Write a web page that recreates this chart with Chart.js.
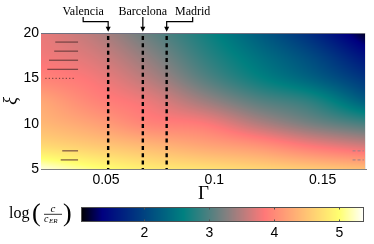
<!DOCTYPE html>
<html><head><meta charset="utf-8">
<script src="https://cdn.jsdelivr.net/npm/chart.js@4.4.1/dist/chart.umd.min.js"></script>
<style>
html,body{margin:0;padding:0;background:#fff;}
#wrap{position:relative;width:374px;height:244px;overflow:hidden;background:#fff;}
#main{position:absolute;left:0;top:0;}
#cb{position:absolute;left:0;top:195px;}
</style></head><body>
<div id="wrap">
<canvas id="main" width="374" height="244" style="width:374px;height:244px"></canvas>
<canvas id="cb" width="374" height="49" style="width:374px;height:49px"></canvas>
</div>
<script>
// ---------- data ----------
const gammaGrid = [0.02, 0.045, 0.07, 0.095, 0.12, 0.145, 0.17];
const xiGrid = [5, 7.5, 10, 12.5, 15, 17.5, 20];
const logRatioXi5    = [5.30, 5.05, 4.85, 4.75, 4.65, 4.55, 4.45];
const logRatioXi7_5  = [4.70, 4.55, 4.40, 4.25, 4.10, 3.85, 3.65];
const logRatioXi10   = [4.40, 4.20, 3.95, 3.85, 3.50, 3.20, 2.95];
const logRatioXi12_5 = [4.25, 3.95, 3.75, 3.40, 3.05, 2.80, 2.25];
const logRatioXi15   = [3.95, 3.80, 3.50, 3.05, 2.65, 2.30, 1.85];
const logRatioXi17_5 = [3.80, 3.65, 3.30, 2.85, 2.45, 2.05, 1.50];
const logRatioXi20   = [3.75, 3.50, 3.10, 2.70, 2.25, 1.75, 1.10];

const cities = ['Valencia', 'Barcelona', 'Madrid'];
const cityGamma = [0.051, 0.067, 0.078];

const gammaTicks = [0.05, 0.1, 0.15];
const xiTicks = [5, 10, 15, 20];
const colorbarTicks = [2, 3, 4, 5];
const colorbarMin = 1.025, colorbarMax = 5.38;

// short stray marks visible inside the plot
const markXi = [19, 18, 17, 16, 15, 7, 6, 7, 6];
const markGammaStart = [0.0266, 0.0261, 0.0237, 0.0229, 0.0220, 0.0298, 0.0291, 0.1638, 0.1638];
const markGammaEnd   = [0.0371, 0.0371, 0.0371, 0.0371, 0.0352, 0.0371, 0.0371, 0.1690, 0.1690];
const markDotted = [false, false, false, false, true, false, false, true, true];

// colormap (value -> colour)
const cmapValues = [1.025, 1.35, 2.6, 3.25, 3.85, 5.0, 5.38];
const cmapColors = [[0,0,0],[0,0,128],[0,128,128],[128,128,128],[255,120,120],[255,255,112],[255,255,255]];

// ---------- helpers ----------
const fieldRows = [logRatioXi5, logRatioXi7_5, logRatioXi10, logRatioXi12_5, logRatioXi15, logRatioXi17_5, logRatioXi20];
function locate(arr, v){
  if (v <= arr[0]) return [0, 0];
  if (v >= arr[arr.length-1]) return [arr.length-2, 1];
  for (let i=0;i<arr.length-1;i++){
    if (v>=arr[i] && v<=arr[i+1]) return [i, (v-arr[i])/(arr[i+1]-arr[i])];
  }
  return [arr.length-2,1];
}
// smooth (Catmull-Rom) shading between the sampled grid values
function cr(p0, p1, p2, p3, t){
  return 0.5*((2*p1) + (-p0+p2)*t + (2*p0-5*p1+4*p2-p3)*t*t + (-p0+3*p1-3*p2+p3)*t*t*t);
}
function rowAt(row, i, t){
  const n = row.length;
  const g = k => row[Math.max(0, Math.min(n-1, k))];
  const p0 = i-1 < 0 ? 2*g(0)-g(1) : g(i-1);
  const p3 = i+2 > n-1 ? 2*g(n-1)-g(n-2) : g(i+2);
  return cr(p0, g(i), g(i+1), p3, t);
}
function field(gv, xi){
  const [i, tx] = locate(gammaGrid, gv);
  const [j, ty] = locate(xiGrid, xi);
  const col = fieldRows.map(r => rowAt(r, i, tx));
  return rowAt(col, j, ty);
}
function cmap(v){
  const [i, t] = locate(cmapValues, v);
  const a = cmapColors[i], b = cmapColors[i+1];
  return [a[0]+(b[0]-a[0])*t, a[1]+(b[1]-a[1])*t, a[2]+(b[2]-a[2])*t];
}

const heatmapPlugin = {
  id: 'heatmap',
  beforeDatasetsDraw(chart){
    const {ctx, chartArea, scales:{x, y}} = chart;
    const left = Math.round(chartArea.left), top = Math.round(chartArea.top);
    const w = Math.round(chartArea.right) - left, h = Math.round(chartArea.bottom) - top;
    const off = document.createElement('canvas'); off.width = w; off.height = h;
    const octx = off.getContext('2d');
    const img = octx.createImageData(w, h);
    for (let py=0; py<h; py++){
      const xi = y.getValueForPixel(top+py+0.5);
      for (let px=0; px<w; px++){
        const g = x.getValueForPixel(left+px+0.5);
        const c = cmap(field(g, xi));
        const k = (py*w+px)*4;
        img.data[k]=c[0]; img.data[k+1]=c[1]; img.data[k+2]=c[2]; img.data[k+3]=255;
      }
    }
    octx.putImageData(img, 0, 0);
    ctx.drawImage(off, left, top);
    ctx.save();
    ctx.strokeStyle = '#6f7080'; ctx.lineWidth = 1;
    ctx.beginPath(); ctx.moveTo(left, top+0.5); ctx.lineTo(left+w, top+0.5); ctx.stroke();
    ctx.strokeStyle = '#e8e8e8';
    ctx.beginPath(); ctx.moveTo(left+w-0.5, top); ctx.lineTo(left+w-0.5, top+h); ctx.stroke();
    ctx.restore();
  }
};

const cityLabelShift = [-25, 0, 26];
const annotationPlugin = {
  id: 'cityArrows',
  afterDraw(chart){
    const {ctx, scales:{x}, chartArea} = chart;
    ctx.save();
    ctx.font = '12px "Liberation Serif", "Times New Roman", serif';
    ctx.fillStyle = '#000'; ctx.strokeStyle = '#000'; ctx.lineWidth = 1.2;
    ctx.textAlign = 'center'; ctx.textBaseline = 'alphabetic';
    const tipY = chartArea.top - 1.3;
    cities.forEach((name, i) => {
      const gx = x.getPixelForValue(cityGamma[i]);
      const lx = gx + cityLabelShift[i];
      ctx.fillText(name, lx, 15);
      ctx.beginPath();
      ctx.moveTo(lx, 17);
      if (cityLabelShift[i] !== 0){
        ctx.lineTo(lx, 21.7); ctx.lineTo(gx, 21.7);
      }
      ctx.lineTo(gx, tipY-4);
      ctx.stroke();
      ctx.beginPath();
      ctx.moveTo(gx-2.5, tipY-5); ctx.lineTo(gx+2.5, tipY-5); ctx.lineTo(gx, tipY); ctx.closePath(); ctx.fill();
    });
    ctx.restore();
  }
};

const datasets = [];
cities.forEach((name, i) => {
  datasets.push({
    label: name, type: 'line',
    data: [{x: cityGamma[i], y: 20}, {x: cityGamma[i], y: 5}],
    borderColor: '#000', borderWidth: 2.4, borderDash: [4, 3.33], borderDashOffset: 4.33,
    pointRadius: 0, fill: false
  });
});
markXi.forEach((xi, i) => {
  datasets.push({
    label: 'mark' + i, type: 'line',
    data: [{x: markGammaStart[i], y: xi}, {x: markGammaEnd[i], y: xi}],
    borderColor: i >= 7 ? '#9a8088' : '#5e3636', borderWidth: 1,
    borderDash: markDotted[i] ? (i >= 7 ? [3, 2] : [1.2, 2.2]) : [],
    pointRadius: 0, fill: false
  });
});

const tickFont = {family: '"Liberation Sans", Arial, sans-serif', size: 14};
new Chart(document.getElementById('main'), {
  type: 'scatter',
  data: {datasets},
  options: {
    responsive: false, animation: false, devicePixelRatio: 1,
    layout: {padding: {left: 0, right: 8, top: 33, bottom: 39}},
    plugins: {legend: {display: false}, tooltip: {enabled: false}},
    scales: {
      x: {
        type: 'linear', min: 0.02, max: 0.17,
        afterBuildTicks: s => { s.ticks = gammaTicks.map(v => ({value: v})); },
        afterFit: s => { s.height = 36; },
        ticks: {font: tickFont, color: '#000', padding: 3, maxRotation: 0, autoSkip: false,
                callback: v => String(Math.round(v*100)/100)},
        grid: {display: false, drawTicks: false},
        border: {display: true, color: '#808080', width: 1},
        title: {display: true, text: 'Γ', color: '#000', padding: 0,
                font: {family: '"Liberation Serif", "Times New Roman", serif', size: 19}}
      },
      y: {
        type: 'linear', min: 5, max: 20,
        afterBuildTicks: s => { s.ticks = xiTicks.map(v => ({value: v})); },
        afterFit: s => { s.width = 41; },
        ticks: {font: tickFont, color: '#000', padding: 2, autoSkip: false},
        grid: {display: false, drawTicks: false},
        border: {display: true, color: '#808080', width: 1},
        title: {display: true, text: 'ξ', color: '#000', padding: 0,
                font: {family: '"Liberation Serif", "Times New Roman", serif', size: 18, style: 'italic'}}
      }
    }
  },
  plugins: [heatmapPlugin, annotationPlugin]
});

// ---------- colour bar ----------
const colorbarPlugin = {
  id: 'colorbar',
  beforeDatasetsDraw(chart){
    const {ctx, chartArea, scales:{x}} = chart;
    const left = Math.round(chartArea.left), top = Math.round(chartArea.top);
    const w = Math.round(chartArea.right) - left, h = Math.round(chartArea.bottom) - top;
    for (let px=0; px<w; px++){
      const c = cmap(x.getValueForPixel(left+px+0.5));
      ctx.fillStyle = 'rgb(' + c.map(Math.round).join(',') + ')';
      ctx.fillRect(left+px, top, 1, h);
    }
    ctx.save();
    ctx.strokeStyle = '#505050'; ctx.lineWidth = 1;
    ctx.strokeRect(left+0.5, top+0.5, w-1, h-1);
    colorbarTicks.forEach(v => {
      const p = Math.round(x.getPixelForValue(v)) + 0.5;
      ctx.beginPath(); ctx.moveTo(p, top); ctx.lineTo(p, top+2.5);
      ctx.moveTo(p, top+h); ctx.lineTo(p, top+h-2.5); ctx.stroke();
    });
    // label log(c / c_ER)
    ctx.fillStyle = '#000';
    ctx.textBaseline = 'alphabetic'; ctx.textAlign = 'left';
    ctx.font = '16px "Liberation Serif", "Times New Roman", serif';
    ctx.fillText('log', 9, 22.7);
    ctx.font = '26px "Liberation Serif", "Times New Roman", serif';
    ctx.fillText('(', 32, 26);
    ctx.fillText(')', 63, 26);
    ctx.textAlign = 'center';
    ctx.font = 'italic 11px "Liberation Serif", "Times New Roman", serif';
    ctx.fillText('c', 53, 16.7);
    ctx.lineWidth = 0.8; ctx.strokeStyle = '#000';
    ctx.beginPath(); ctx.moveTo(44, 19.3); ctx.lineTo(62, 19.3); ctx.stroke();
    ctx.textAlign = 'left';
    ctx.font = 'italic 10px "Liberation Serif", "Times New Roman", serif';
    ctx.fillText('c', 44, 26.5);
    ctx.font = 'italic 7px "Liberation Serif", "Times New Roman", serif';
    ctx.fillText('ER', 49, 27.7);
    ctx.restore();
  }
};

new Chart(document.getElementById('cb'), {
  type: 'scatter',
  data: {datasets: []},
  options: {
    responsive: false, animation: false, devicePixelRatio: 1,
    layout: {padding: {left: 81, right: 10, top: 12, bottom: 0}},
    plugins: {legend: {display: false}, tooltip: {enabled: false}},
    scales: {
      x: {
        type: 'linear', min: colorbarMin, max: colorbarMax,
        afterBuildTicks: s => { s.ticks = colorbarTicks.map(v => ({value: v})); },
        afterFit: s => { s.height = 22; },
        ticks: {font: tickFont, color: '#000', padding: 3, maxRotation: 0, autoSkip: false},
        grid: {display: false, drawTicks: false},
        border: {display: false}
      },
      y: {display: false, min: 0, max: 1}
    }
  },
  plugins: [colorbarPlugin]
});
</script>
</body></html>
